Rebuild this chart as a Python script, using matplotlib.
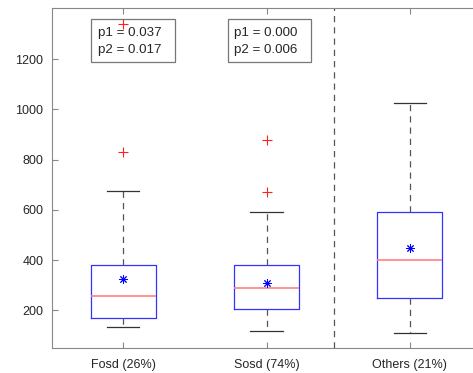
import matplotlib.pyplot as plt
from matplotlib.patches import Rectangle

plt.rcParams['font.family'] = ['Liberation Sans', 'DejaVu Sans']

labels = ['Fosd (26%)', 'Sosd (74%)', 'Others (21%)']
whislo = [135, 120, 112]
q1 = [171, 204, 249]
med = [258, 289, 399]
q3 = [379, 379, 591]
whishi = [675, 590, 1025]
means = [325, 309, 448]
fliers = [[829, 1339], [673, 877], []]
pvals = [('0.037', '0.017'), ('0.000', '0.006')]

stats = []
for i in range(3):
    stats.append(dict(label=labels[i], whislo=whislo[i], q1=q1[i], med=med[i],
                      q3=q3[i], whishi=whishi[i], mean=means[i], fliers=fliers[i]))

fig = plt.figure(figsize=(4.73, 3.73), dpi=100)
ax = fig.add_axes([0.1093, 0.0678, 0.9083, 0.91])

bp = ax.bxp(stats, positions=[1, 2, 3], widths=0.45, showmeans=True,
            boxprops=dict(color='#3333ff', linewidth=0.9),
            medianprops=dict(color='#ff8080', linewidth=1.2),
            whiskerprops=dict(color='#555555', linestyle=(0, (5, 4)), linewidth=0.9),
            capprops=dict(color='#333333', linewidth=0.9),
            capwidths=0.225,
            flierprops=dict(marker='+', markeredgecolor='#ff2020', markersize=7,
                            markeredgewidth=0.8, linewidth=0),
            meanprops=dict(marker=(8, 2, 0), markeredgecolor='blue',
                           markersize=6, markeredgewidth=0.7, linewidth=0))
for f in bp['fliers']:
    f.set_zorder(5)

ax.axvline(2.47, color='#555555', linestyle=(0, (5, 4)), linewidth=0.9)

ax.set_xlim(0.5, 3.5)
ax.set_ylim(52, 1402)
ax.set_yticks([200, 400, 600, 800, 1000, 1200])

for sp in ax.spines.values():
    sp.set_color('#888888')
ax.spines['right'].set_visible(False)
ax.tick_params(direction='in', colors='#888888', labelcolor='#262626',
               labelsize=9, top=True, length=4)
ax.tick_params(axis='x', pad=8)
ax.tick_params(axis='y', pad=6)

# p-value boxes above the first two groups (x0, x1 in data units, y in axes fraction)
box_x = [(0.776, 1.363), (1.731, 2.309)]
for (x0, x1), (p1, p2) in zip(box_x, pvals):
    tr = ax.get_xaxis_transform()
    ax.add_patch(Rectangle((x0, 0.8418), x1 - x0, 0.1279, transform=tr,
                           facecolor='white', edgecolor='#777777', linewidth=0.9,
                           zorder=4))
    ax.text(x0 + 0.045, 0.902, 'p1 = %s\np2 = %s' % (p1, p2), transform=tr,
            fontsize=9.6, va='center', ha='left', color='#262626',
            linespacing=1.5, zorder=4.5)

fig.savefig('out.png', dpi=100)
